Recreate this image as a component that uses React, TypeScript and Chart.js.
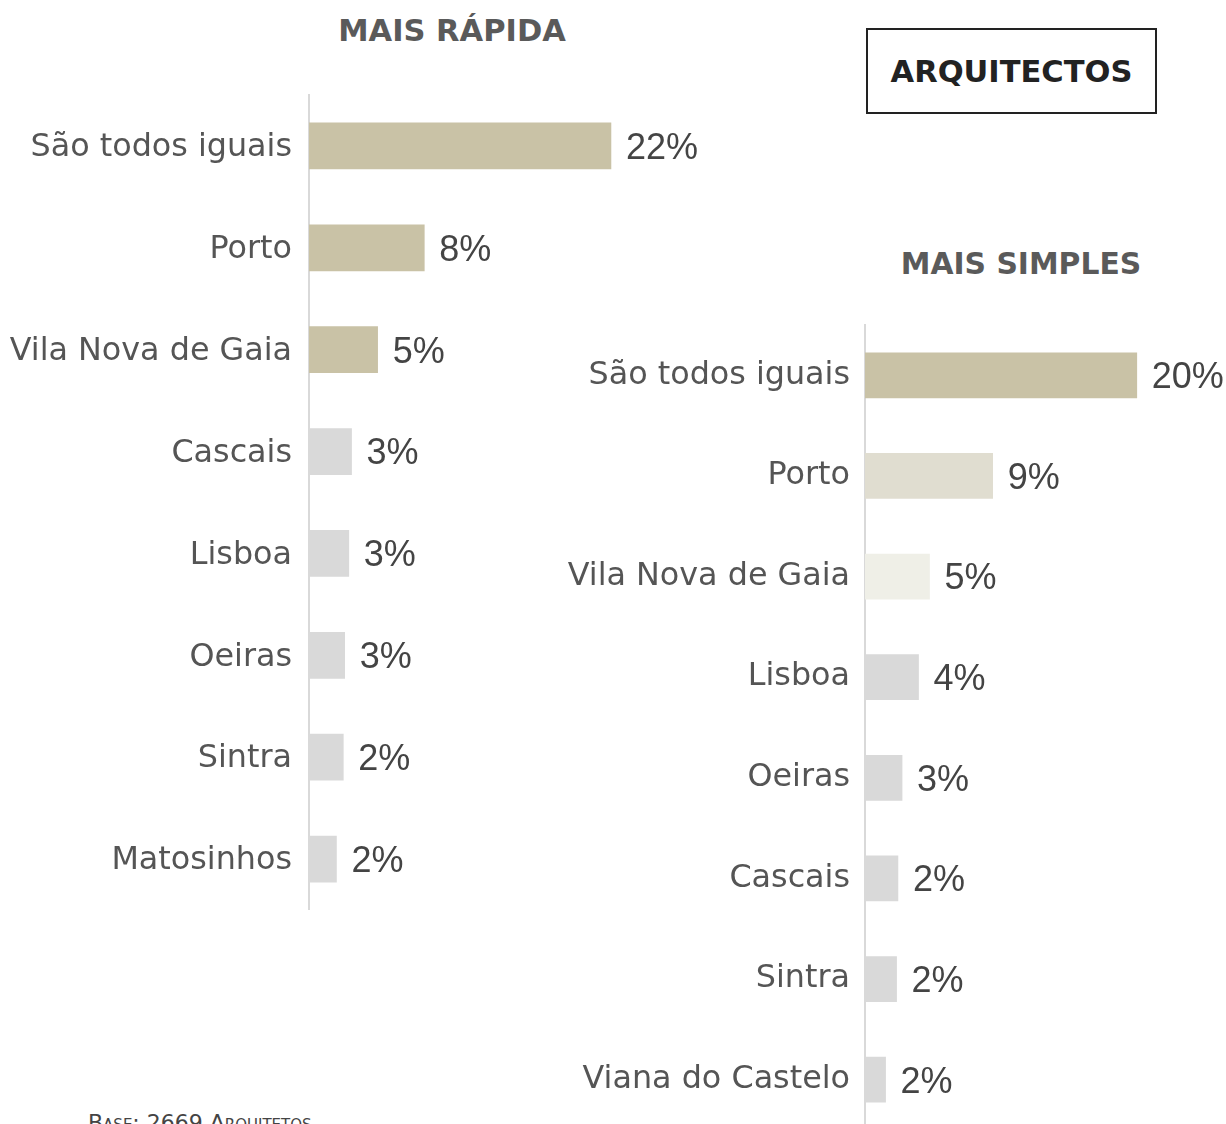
import React, { useEffect, useRef } from "react";
import { Chart, registerables } from "chart.js";

Chart.register(...registerables);

// ---- Data ----
const leftTitle = "MAIS RÁPIDA";
const leftCategories = ["São todos iguais", "Porto", "Vila Nova de Gaia", "Cascais", "Lisboa", "Oeiras", "Sintra", "Matosinhos"];
const leftValues = [22.0, 8.4, 5.0, 3.1, 2.9, 2.6, 2.5, 2.0];
const leftLabels = ["22%", "8%", "5%", "3%", "3%", "3%", "2%", "2%"];

const rightTitle = "MAIS SIMPLES";
const rightCategories = ["São todos iguais", "Porto", "Vila Nova de Gaia", "Lisboa", "Oeiras", "Cascais", "Sintra", "Viana do Castelo"];
const rightValues = [19.8, 9.3, 4.7, 3.9, 2.7, 2.4, 2.3, 1.5];
const rightLabels = ["20%", "9%", "5%", "4%", "3%", "2%", "2%", "2%"];

const groupLabel = "ARQUITECTOS";
const baseNote = "Base: 2669 Arquitetos";

// ---- Styles ----
const TAN = "#c9c2a6";
const GRAY = "#d9d9d9";
const leftColors = [TAN, TAN, TAN, GRAY, GRAY, GRAY, GRAY, GRAY];
const rightColors = [TAN, "#e0ddd0", "#efefe7", GRAY, GRAY, GRAY, GRAY, GRAY];

const valueLabelPlugin = {
  id: "valueLabels",
  afterDatasetsDraw(chart: any) {
    const labels: string[] = chart.options.plugins.valueLabels.labels;
    const ctx = chart.ctx;
    const meta = chart.getDatasetMeta(0);
    ctx.save();
    ctx.font = '36px "Liberation Sans"';
    ctx.fillStyle = "#444444";
    ctx.textAlign = "left";
    ctx.textBaseline = "middle";
    meta.data.forEach((el: any, i: number) => {
      ctx.fillText(labels[i], el.x + 15, el.y + 3);
    });
    ctx.restore();
  },
};

function makeConfig(
  categories: string[],
  values: number[],
  labels: string[],
  colors: string[],
  xMax: number,
  axisWidth: number,
  thickness: number,
  tickPad: number,
  tickShift: number
): any {
  return {
    type: "bar",
    data: {
      labels: categories,
      datasets: [
        {
          data: values,
          backgroundColor: colors,
          borderWidth: 0,
          barThickness: thickness,
        },
      ],
    },
    options: {
      indexAxis: "y",
      animation: false,
      responsive: false,
      devicePixelRatio: 1,
      layout: { padding: { top: 5, bottom: 0, left: 0, right: 0 } },
      plugins: {
        legend: { display: false },
        tooltip: { enabled: false },
        title: { display: false },
        valueLabels: { labels },
      },
      scales: {
        x: { type: "linear", min: 0, max: xMax, display: false },
        y: {
          type: "category",
          position: "left",
          grid: { display: false, drawTicks: false },
          border: { display: true, color: "#d9d9d9", width: 2 },
          ticks: {
            autoSkip: false,
            color: "#555555",
            padding: tickPad,
            labelOffset: tickShift,
            font: { family: "DejaVu Sans", size: 31.8 },
          },
          afterFit(scale: any) {
            scale.width = axisWidth;
            scale.paddingTop = 0;
            scale.paddingBottom = 0;
          },
        },
      },
    },
    plugins: [valueLabelPlugin],
  };
}

function BarChart(props: { config: any; style: React.CSSProperties; width: number; height: number }) {
  const ref = useRef<HTMLCanvasElement | null>(null);
  useEffect(() => {
    if (!ref.current) return;
    const chart = new Chart(ref.current, props.config);
    return () => chart.destroy();
  }, []);
  return <canvas ref={ref} width={props.width} height={props.height} style={{ position: "absolute", width: props.width, height: props.height, ...props.style }} />;
}

const titleStyle: React.CSSProperties = {
  position: "absolute",
  transform: "translateX(-50%)",
  fontFamily: "DejaVu Sans",
  fontWeight: "bold",
  lineHeight: "30px",
  color: "#5a5a5a",
  whiteSpace: "nowrap",
};

export default function App() {
  const leftConfig = makeConfig(leftCategories, leftValues, leftLabels, leftColors, 40, 309, 46, 17, 2);
  const rightConfig = makeConfig(rightCategories, rightValues, rightLabels, rightColors, 26.3, 305, 45, 15, 0);
  return (
    <div style={{ position: "absolute", left: 0, top: 0, width: 1226, height: 1124, overflow: "hidden", background: "#ffffff" }}>
      <div style={{ ...titleStyle, fontSize: 30.5, left: 452, top: 16 }}>{leftTitle}</div>
      <div style={{ ...titleStyle, fontSize: 29.8, left: 1021, top: 249 }}>{rightTitle}</div>
      <div
        style={{
          position: "absolute",
          left: 866,
          top: 28,
          width: 291,
          height: 86,
          boxSizing: "border-box",
          border: "2px solid #222",
          display: "flex",
          alignItems: "center",
          justifyContent: "center",
          fontFamily: "DejaVu Sans",
          fontWeight: "bold",
          fontSize: 30.5,
          color: "#222",
        }}
      >
        {groupLabel}
      </div>
      <BarChart config={leftConfig} width={858} height={820} style={{ left: 0, top: 90 }} />
      <BarChart config={rightConfig} width={666} height={810} style={{ left: 560, top: 320 }} />
      <div
        style={{
          position: "absolute",
          left: 88,
          top: 1110,
          fontFamily: "DejaVu Sans",
          fontSize: 22,
          fontVariant: "small-caps",
          color: "#444",
          whiteSpace: "nowrap",
        }}
      >
        {baseNote}
      </div>
    </div>
  );
}
